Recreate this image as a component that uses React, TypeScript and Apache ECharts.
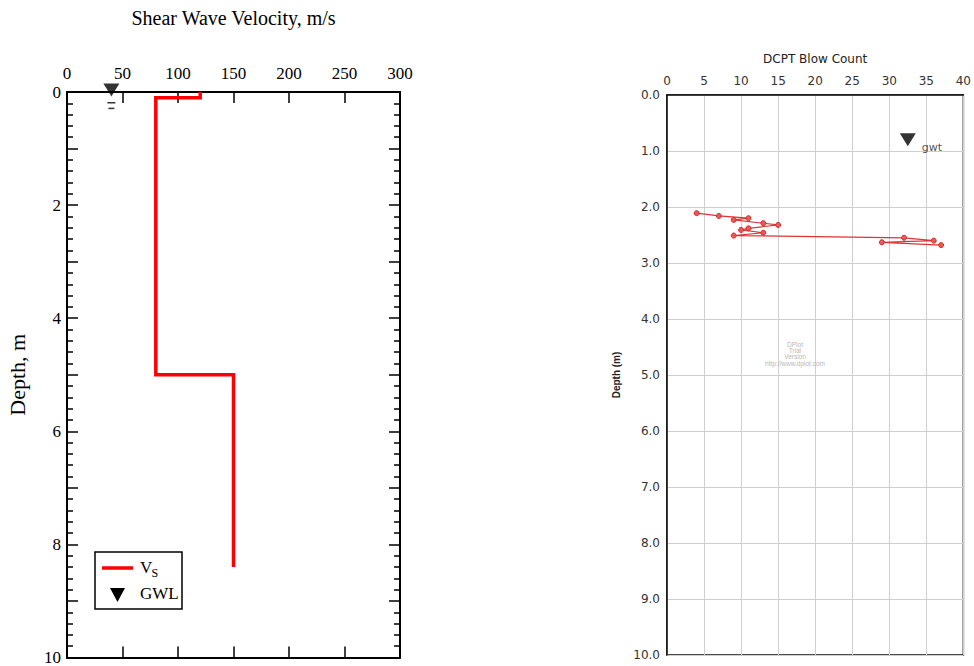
import React, { useEffect, useRef } from "react";
import * as echarts from "echarts";

// Left chart: shear wave velocity profile
const vsVelocity = [120, 120, 80, 80, 150, 150];
const vsDepth = [0, 0.1, 0.1, 5.0, 5.0, 8.4];
const gwlVelocity = 40;
const gwlDepth = 0;
const gwlBarDepths = [0.19, 0.29];
const leftXTicks = [0, 50, 100, 150, 200, 250, 300];

// Right chart: DCPT blow count
const dcptBlows = [4, 7, 11, 9, 13, 15, 11, 10, 13, 9, 32, 36, 29, 37];
const dcptDepth = [2.11, 2.16, 2.2, 2.23, 2.29, 2.32, 2.38, 2.41, 2.46, 2.51, 2.55, 2.6, 2.63, 2.68];
const gwtBlow = 32.5;
const gwtDepth = 0.8;

const SERIF = "Liberation Serif";
const SANS = "DejaVu Sans";

export default function App() {
  const ref = useRef<HTMLDivElement>(null);
  useEffect(() => {
    if (!ref.current) return;
    const chart = echarts.init(ref.current, null, { renderer: "svg" });
    const blackLine = { show: true, onZero: false, lineStyle: { color: "#000", width: 2 } };
    const leftTick = { show: true, inside: true, length: 11, lineStyle: { color: "#000", width: 1.5 } };
    const leftMinor = { show: true, splitNumber: 5, length: 6, lineStyle: { color: "#000", width: 1.5 } };
    const option: any = {
      animation: false,
      backgroundColor: "#fff",
      grid: [
        { left: 67, top: 92, width: 333, height: 567, containLabel: false },
        {
          left: 667, top: 95, width: 299, height: 560, containLabel: false,
          show: true, borderColor: "#111", borderWidth: 1.5, backgroundColor: "transparent",
        },
      ],
      xAxis: [
        {
          type: "value", gridIndex: 0, position: "top", min: leftXTicks[0], max: leftXTicks[leftXTicks.length - 1], interval: 50,
          axisLine: blackLine,
          axisTick: leftTick,
          axisLabel: { color: "#000", fontFamily: SERIF, fontSize: 17, margin: 10 },
          splitLine: { show: false },
          name: "Shear Wave Velocity, m/s", nameLocation: "middle", nameGap: 64,
          nameTextStyle: { color: "#000", fontFamily: SERIF, fontSize: 20 },
        },
        {
          type: "value", gridIndex: 0, position: "bottom", min: 0, max: 300, interval: 50,
          axisLine: blackLine,
          axisTick: leftTick,
          axisLabel: { show: false },
          splitLine: { show: false },
        },
        {
          type: "value", gridIndex: 1, position: "top", min: 0, max: 40, interval: 5,
          axisLine: { show: true, onZero: false, lineStyle: { color: "#111", width: 1.5 } },
          axisTick: { show: false },
          axisLabel: { color: "#333", fontFamily: SANS, fontSize: 12, margin: 8 },
          splitLine: { show: true, lineStyle: { color: "#cfcfcf", width: 1 } },
          name: "DCPT Blow Count", nameLocation: "middle", nameGap: 30,
          nameTextStyle: { color: "#222", fontFamily: SANS, fontSize: 12 },
        },
      ],
      yAxis: [
        {
          type: "value", gridIndex: 0, position: "left", inverse: true, min: 0, max: 10, interval: 1,
          axisLine: blackLine,
          axisTick: leftTick,
          minorTick: leftMinor,
          axisLabel: {
            color: "#000", fontFamily: SERIF, fontSize: 17, margin: 6,
            formatter: (v: number) => (v % 2 === 0 ? String(v) : ""),
          },
          splitLine: { show: false },
          name: "Depth, m", nameLocation: "middle", nameGap: 39, nameRotate: 90,
          nameTextStyle: { color: "#000", fontFamily: SERIF, fontSize: 22 },
        },
        {
          type: "value", gridIndex: 0, position: "right", inverse: true, min: 0, max: 10, interval: 1,
          axisLine: blackLine,
          axisTick: leftTick,
          minorTick: leftMinor,
          axisLabel: { show: false },
          splitLine: { show: false },
        },
        {
          type: "value", gridIndex: 1, position: "left", inverse: true, min: 0, max: 10, interval: 1,
          axisLine: { show: true, onZero: false, lineStyle: { color: "#111", width: 1.5 } },
          axisTick: { show: false },
          axisLabel: { color: "#333", fontFamily: SANS, fontSize: 12, margin: 7, formatter: (v: number) => v.toFixed(1) },
          splitLine: { show: true, lineStyle: { color: "#cfcfcf", width: 1 } },
          name: "Depth (m)", nameLocation: "middle", nameGap: 46, nameRotate: 90,
          nameTextStyle: { color: "#222", fontFamily: "Liberation Sans", fontSize: 10, fontWeight: "bold" },
        },
      ],
      series: [
        {
          name: "Vs", type: "line", xAxisIndex: 0, yAxisIndex: 0,
          data: vsVelocity.map((v, i) => [v, vsDepth[i]]),
          showSymbol: false, symbol: "none",
          lineStyle: { color: "#ff0000", width: 3.5, join: "miter", cap: "butt" },
          clip: false, z: 3,
        },
        {
          name: "GWL", type: "scatter", xAxisIndex: 0, yAxisIndex: 0,
          data: [[gwlVelocity, gwlDepth]],
          symbol: "triangle", symbolRotate: 180, symbolSize: [16, 13], symbolOffset: [0, -2],
          itemStyle: { color: "#000" }, clip: false, z: 4,
        },
        {
          name: "GWL bars", type: "scatter", xAxisIndex: 0, yAxisIndex: 0,
          data: gwlBarDepths.map((d, i) => ({ value: [gwlVelocity, d], symbolSize: [i === 0 ? 8 : 6, 1.5] })),
          symbol: "rect", itemStyle: { color: "#000" }, clip: false, z: 4,
        },
        {
          name: "DCPT", type: "line", xAxisIndex: 2, yAxisIndex: 2,
          data: dcptBlows.map((b, i) => [b, dcptDepth[i]]),
          symbol: "circle", symbolSize: 5, showSymbol: true,
          lineStyle: { color: "#df3434", width: 1.2 },
          itemStyle: { color: "#e85a5a", borderColor: "#d02a2a", borderWidth: 1 },
          z: 3,
        },
        {
          name: "gwt", type: "scatter", xAxisIndex: 2, yAxisIndex: 2,
          data: [[gwtBlow, gwtDepth]],
          symbol: "triangle", symbolRotate: 180, symbolSize: [16, 13],
          itemStyle: { color: "#000" },
          label: {
            show: true, position: "right", distance: 6, offset: [0, 8], formatter: "gwt",
            color: "#222", fontFamily: SANS, fontSize: 11,
          },
          z: 4,
        },
      ],
      graphic: [
        { type: "rect", shape: { x: 95, y: 552, width: 87, height: 57 }, style: { fill: "#fff", stroke: "#000", lineWidth: 1.5 }, z: 10 },
        { type: "line", shape: { x1: 102, y1: 568, x2: 133, y2: 568 }, style: { stroke: "#ff0000", lineWidth: 3.5 }, z: 11 },
        { type: "text", x: 140, y: 567.5, style: { text: "V", fontFamily: SERIF, fontSize: 17, fill: "#000", verticalAlign: "middle" }, z: 11 },
        { type: "text", x: 151.5, y: 572.5, style: { text: "S", fontFamily: SERIF, fontSize: 12, fill: "#000", verticalAlign: "middle" }, z: 11 },
        { type: "polygon", shape: { points: [[110, 588], [125, 588], [117.5, 602]] }, style: { fill: "#000" }, z: 11 },
        { type: "text", x: 140, y: 593, style: { text: "GWL", fontFamily: SERIF, fontSize: 17, fill: "#000", verticalAlign: "middle" }, z: 11 },
        {
          type: "text", x: 795, y: 341,
          style: {
            text: "DPlot\nTrial\nVersion\nhttp://www.dplot.com",
            fontFamily: "Liberation Sans", fontSize: 6.5, lineHeight: 6.3, fill: "#b8b8b8", align: "center",
          },
          z: 2,
        },
      ],
    };
    chart.setOption(option);
    return () => chart.dispose();
  }, []);
  return <div ref={ref} style={{ position: "absolute", left: 0, top: 0, width: 974, height: 666 }} />;
}
